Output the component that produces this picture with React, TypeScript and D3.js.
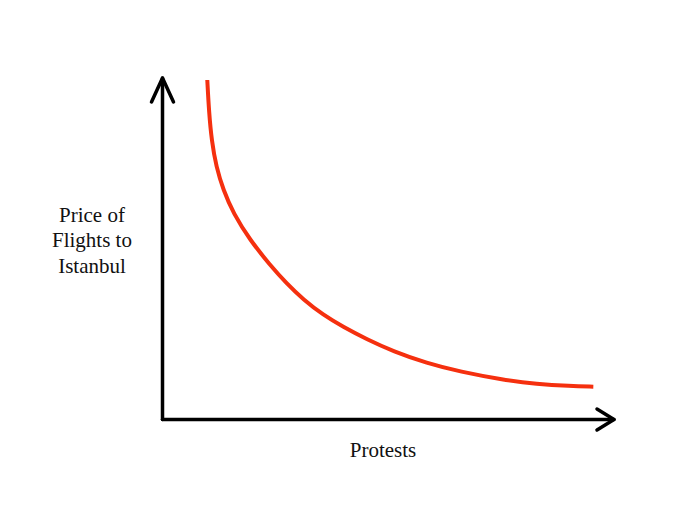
import React from "react";
import * as d3 from "d3";

const curveX = [9.92, 10.3, 10.9, 11.9, 13.47, 15.68, 19.38, 23.81, 27.51, 31.18, 35.61, 40.04, 45.23, 51.12, 58.52, 65.89, 75.48, 82.88, 90.25, 95.42];
const curveY = [99.41, 90.0, 81.5, 74.0, 67.2, 60.38, 52.56, 45.23, 39.82, 35.14, 30.6, 27.1, 23.5, 19.95, 16.5, 14.0, 11.6, 10.4, 9.8, 9.6];
const yLabelLines = ["Price of", "Flights to", "Istanbul"];
const xLabel = "Protests";

export default function App() {
  const W = 700, H = 525;
  const x = d3.scaleLinear().domain([0, 100]).range([162.5, 614]);
  const y = d3.scaleLinear().domain([0, 100]).range([419.5, 78]);
  const pts: [number, number][] = curveX.map((v, i) => [v, curveY[i]]);
  const line = d3
    .line<[number, number]>()
    .x((d) => x(d[0]))
    .y((d) => y(d[1]))
    .curve(d3.curveBasis);
  const x0 = x(0), y0 = y(0), yTop = y(100), xEnd = x(100);
  const font = "'Liberation Serif', 'Times New Roman', serif";
  return (
    <svg
      width={W}
      height={H}
      style={{ position: "absolute", left: 0, top: 0, background: "#fff" }}
    >
      <rect width={W} height={H} fill="#fff" />
      <g stroke="#000" strokeWidth={3.5} fill="none" strokeLinecap="round" strokeLinejoin="round">
        <line x1={x0} y1={y0} x2={x0} y2={yTop} />
        <line x1={x0} y1={y0} x2={xEnd} y2={y0} />
        <polyline points={`${x0 - 11},${yTop + 24} ${x0},${yTop} ${x0 + 11},${yTop + 24}`} />
        <polyline points={`${xEnd - 17},${y0 - 10.5} ${xEnd},${y0} ${xEnd - 17},${y0 + 10.5}`} />
      </g>
      <path d={line(pts) || ""} fill="none" stroke="#f5300f" strokeWidth={4} strokeLinecap="butt" />
      <g fontFamily={font} fontSize={21} fill="#111" textAnchor="middle">
        {yLabelLines.map((t, i) => (
          <text key={t} x={92} y={221.5 + i * 25.5}>
            {t}
          </text>
        ))}
        <text x={383} y={456.5}>
          {xLabel}
        </text>
      </g>
    </svg>
  );
}
